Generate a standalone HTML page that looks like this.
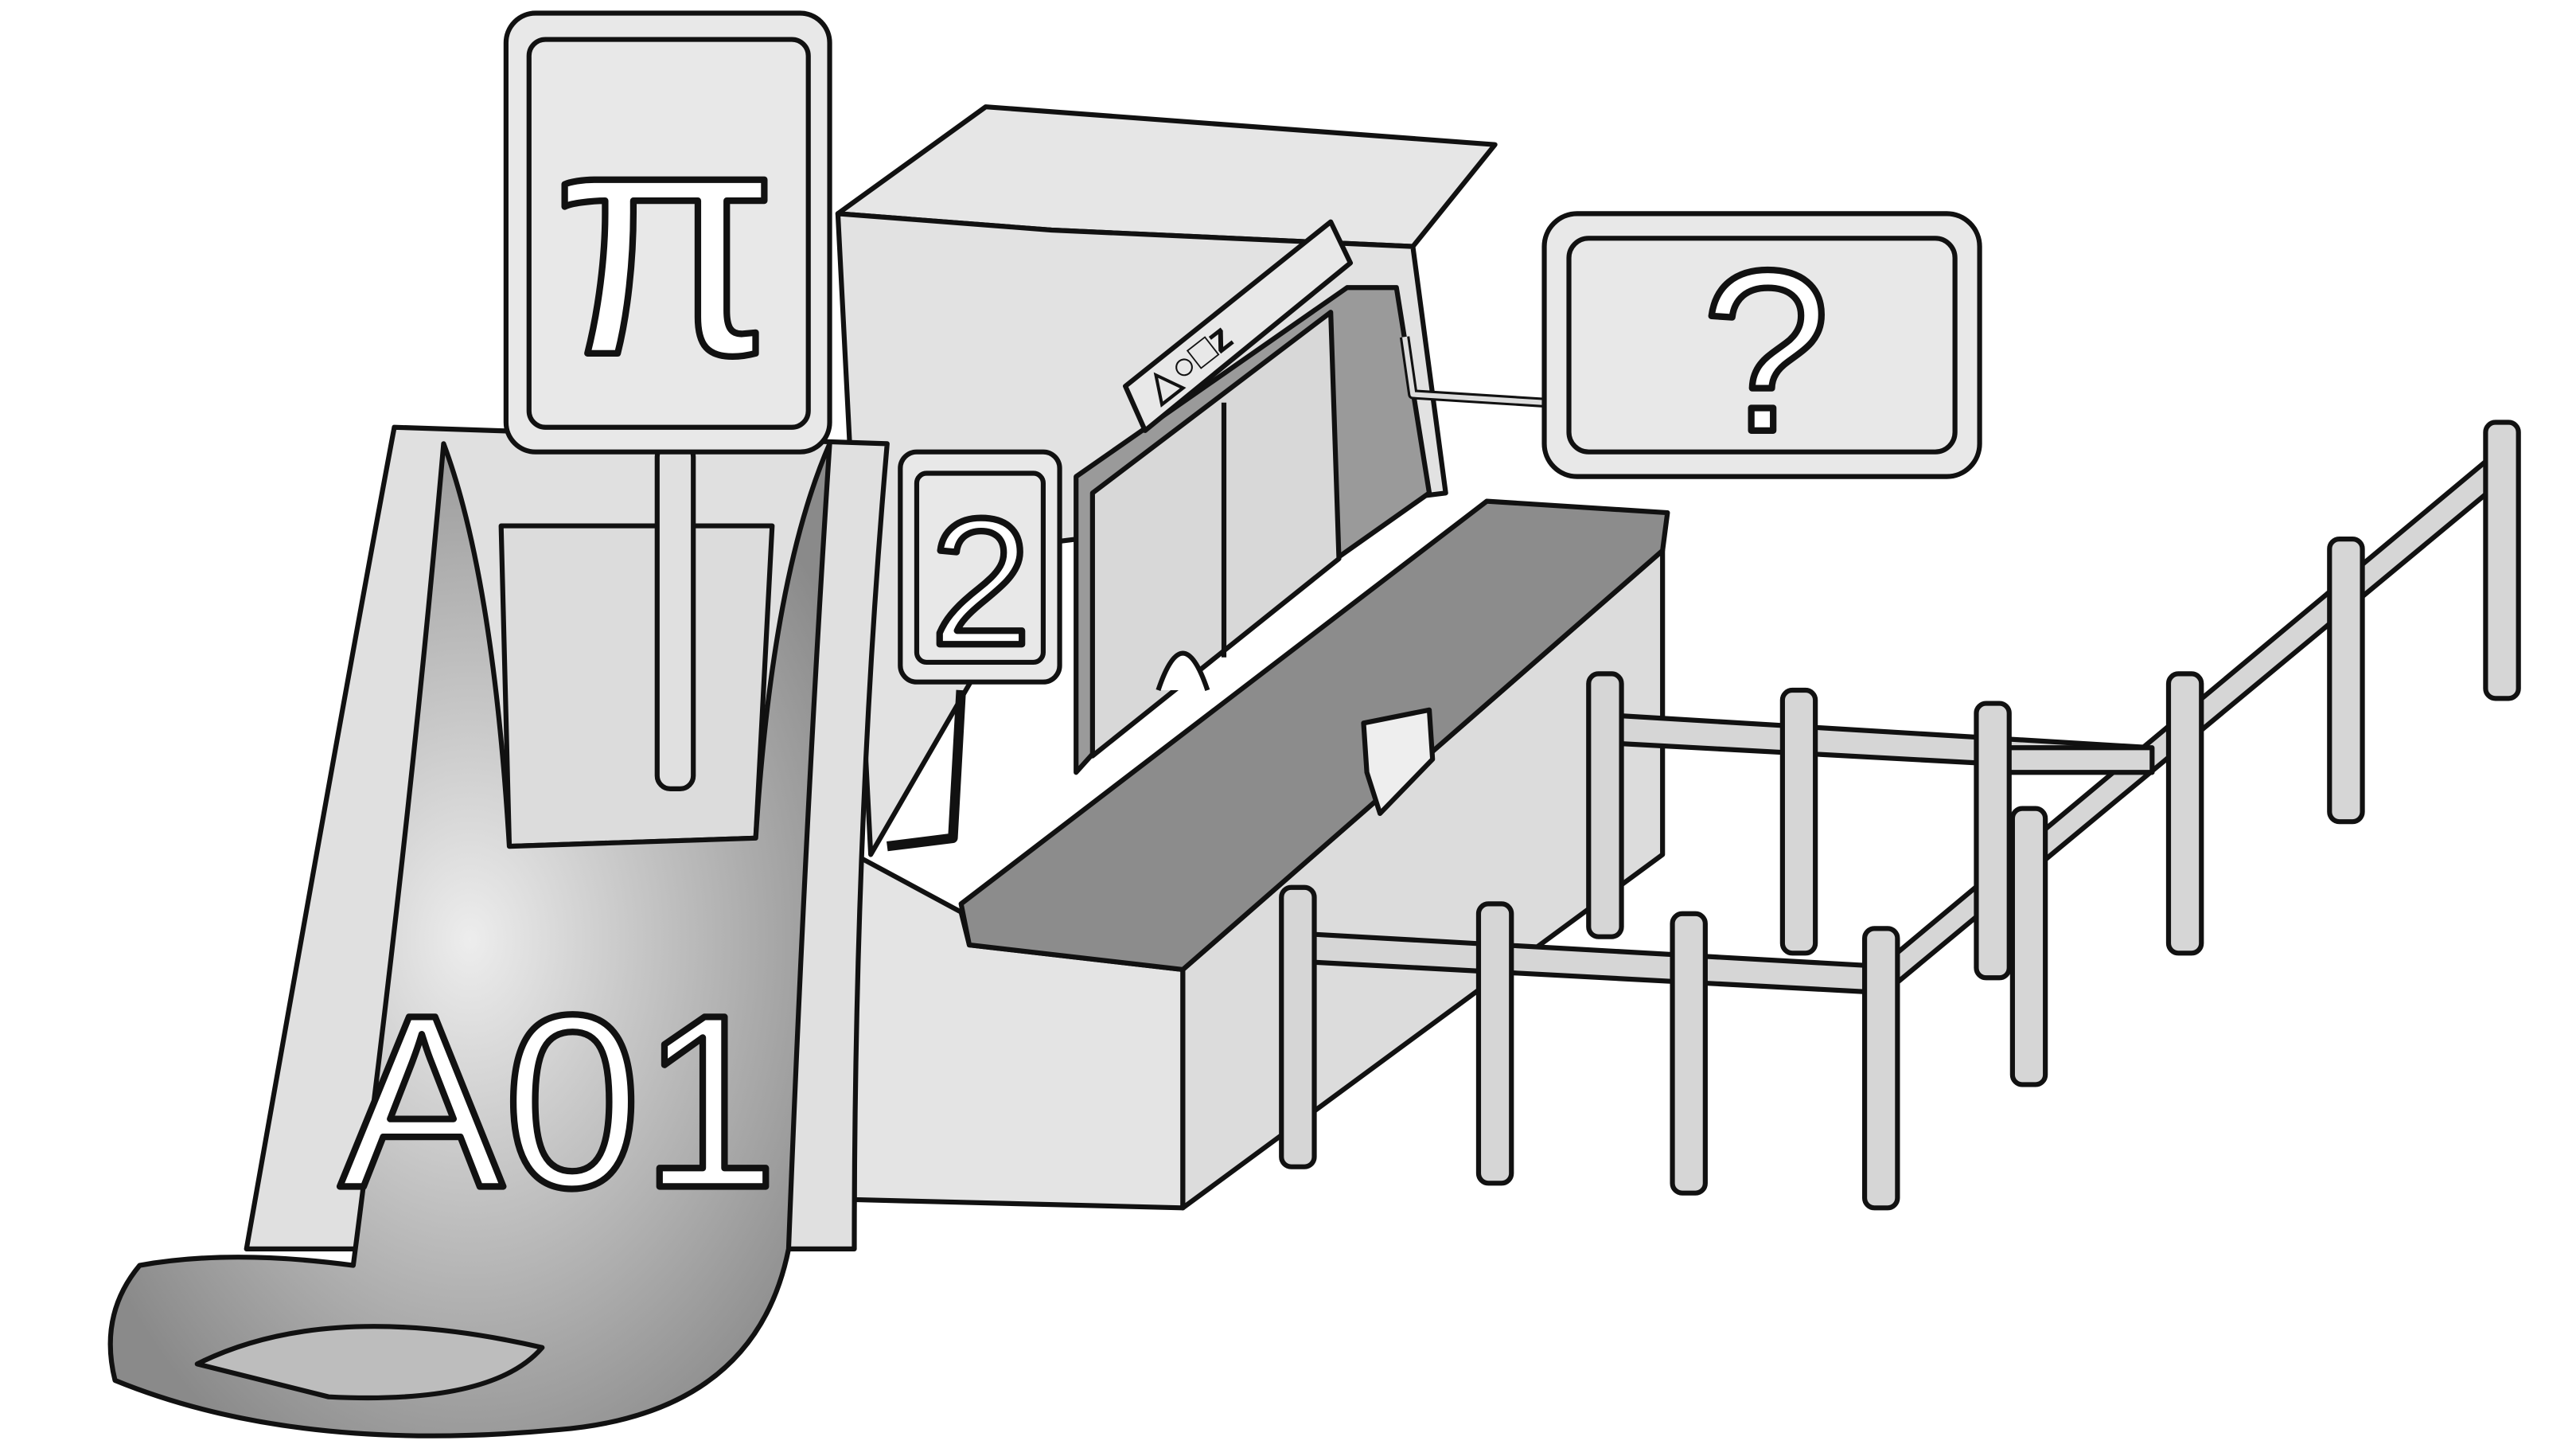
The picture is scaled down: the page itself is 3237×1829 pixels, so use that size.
<!DOCTYPE html>
<html><head><meta charset="utf-8"><style>
html,body{margin:0;padding:0;background:#fff;}
svg{display:block;}
text{font-family:"Liberation Sans",sans-serif;}
</style></head><body>
<svg width="3237" height="1829" viewBox="0 0 1568 886" xmlns="http://www.w3.org/2000/svg" stroke="#111" stroke-width="3" stroke-linejoin="round">
<defs>
<radialGradient id="g1" cx="0.5" cy="0.5" r="0.6"><stop offset="0" stop-color="#ededed"/><stop offset="1" stop-color="#8a8a8a"/></radialGradient>
</defs>
<g>
<polygon points="510,130 600,65 910,88 860,150 640,140" fill="#e6e6e6"/>
<polygon points="510,130 640,140 860,150 880,300 640,330 530,520" fill="#e2e2e2"/>
<polygon points="655,290 820,175 850,175 870,300 700,420 655,470" fill="#9a9a9a"/>
<polygon points="665,300 810,190 815,340 665,460" fill="#d8d8d8"/>
<line x1="745" y1="245" x2="745" y2="400"/>
<path d="M705,420 Q720,375 735,420" fill="#fff"/>
<polygon points="685,235 810,135 822,160 697,262" fill="#e8e8e8"/>
<text x="0" y="0" font-size="24" font-weight="bold" fill="#111" stroke="none" transform="translate(705,245) rotate(-38)">△○□z</text>
</g>
<g>
<polygon points="520,520 585,555 590,575 720,590 720,735 520,730" fill="#e4e4e4"/>
<polygon points="720,590 1012,335 1012,520 720,735" fill="#dcdcdc"/>
<polygon points="585,550 905,305 1015,312 1012,335 720,590 590,575" fill="#8c8c8c"/>
<polygon points="830,440 870,432 872,462 840,495 832,470" fill="#eee"/>
</g>
<g>
<polyline points="855,205 860,240 940,245" fill="none" stroke-width="6" stroke="#111"/>
<polyline points="855,205 860,240 940,245" fill="none" stroke-width="3" stroke="#ddd"/>
<rect x="940" y="130" width="265" height="160" rx="20" fill="#e8e8e8"/>
<rect x="955" y="145" width="235" height="130" rx="12" fill="none"/>
<text x="1075" y="262" font-size="140" text-anchor="middle" fill="#fff" stroke="#111" stroke-width="4">?</text>
</g>
<g>
<polyline points="585,420 580,510 540,515" fill="none" stroke-width="6"/>
<rect x="548" y="275" width="97" height="140" rx="10" fill="#e8e8e8"/>
<rect x="558" y="288" width="77" height="115" rx="6" fill="none"/>
<text x="597" y="392" font-size="110" text-anchor="middle" fill="#fff" stroke="#111" stroke-width="4">2</text>
</g>
<g>
<path d="M150,760 Q210,420 240,260 L540,270 Q520,500 520,760 Z" fill="#e0e0e0"/>
<path d="M305,320 L470,320 L460,510 L310,515 Z" fill="#dcdcdc"/>
<path d="M270,270 Q250,500 215,770 Q140,760 85,770 Q60,800 70,840 Q180,885 340,870 Q460,860 480,760 Q490,500 505,270 Q470,350 460,510 L310,515 Q300,350 270,270 Z" fill="url(#g1)"/>
<path d="M120,830 Q200,790 330,820 Q300,855 200,850 Z" fill="#bdbdbd"/>
<text x="340" y="722" font-size="150" text-anchor="middle" fill="#fff" stroke="#111" stroke-width="4">A01</text>
</g>
<g>
<rect x="400" y="270" width="22" height="210" rx="8" fill="#e0e0e0"/>
<rect x="308" y="8" width="197" height="267" rx="18" fill="#e8e8e8"/>
<rect x="322" y="24" width="170" height="236" rx="10" fill="none"/>
<text x="405" y="215" font-size="200" text-anchor="middle" fill="#fff" stroke="#111" stroke-width="4" font-family="DejaVu Sans">π</text>
</g>
<g fill="#d6d6d6">
<polygon points="977,435 1310,455 1310,470 977,452"/>
<polygon points="790,568 1145,588 1145,604 790,585"/>
<polygon points="1145,588 1520,275 1520,295 1145,606"/>
<polygon points="1213,455 1310,455 1310,470 1213,470"/>
<rect x="967" y="410" width="20" height="160" rx="6"/>
<rect x="1085" y="420" width="20" height="160" rx="6"/>
<rect x="1203" y="428" width="20" height="167" rx="6"/>
<rect x="1320" y="410" width="20" height="170" rx="6"/>
<rect x="1418" y="328" width="20" height="172" rx="6"/>
<rect x="1513" y="257" width="20" height="168" rx="6"/>
<rect x="1225" y="492" width="20" height="168" rx="6"/>
<rect x="780" y="540" width="20" height="170" rx="6"/>
<rect x="900" y="550" width="20" height="170" rx="6"/>
<rect x="1018" y="556" width="20" height="170" rx="6"/>
<rect x="1135" y="565" width="20" height="170" rx="6"/>
</g>
</svg>
</body></html>
